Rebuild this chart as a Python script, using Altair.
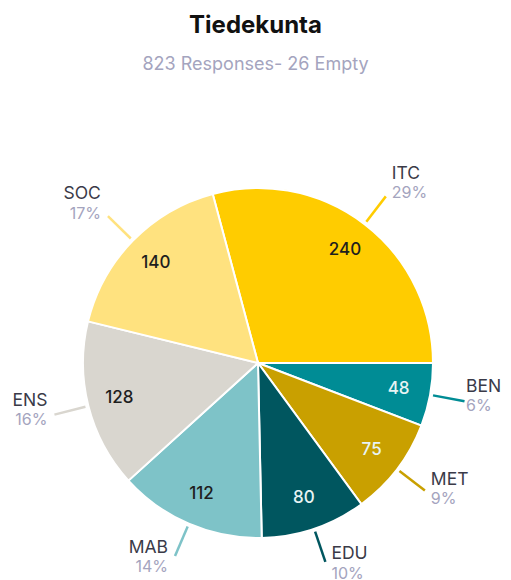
import altair as alt
import pandas as pd

# ---- data ----
categories = ["ITC", "BEN", "MET", "EDU", "MAB", "ENS", "SOC"]
counts = [240, 48, 75, 80, 112, 128, 140]
percent_labels = ["29%", "6%", "9%", "10%", "14%", "16%", "17%"]
title_text = "Tiedekunta"
subtitle_text = "823 Responses- 26 Empty"

# ---- styling ----
palette = ["#FFCC00", "#008C95", "#C9A000", "#00565F", "#7EC3C8", "#D9D6CF", "#FFE27F"]
light_text_cats = ["BEN", "MET", "EDU"]
FONT = "Inter"
START_DEG = -15
R = 175          # pie radius (px)
R_IN = 143       # radius of the count labels
R_L0 = 178       # leader line start
R_L1 = 210       # leader line end
X_MAX_LABEL = 208  # keep right-hand labels inside the canvas

df = pd.DataFrame({
    "cat": categories,
    "count": counts,
    "pct": percent_labels,
    "order": list(range(len(categories))),
})

W, H, TOP = 495, 477, 95
CY = 260  # pie centre distance below plot top
xscale = alt.Scale(domain=[-250, W - 250], nice=False, zero=False)
yscale = alt.Scale(domain=[CY - H, CY], nice=False, zero=False)

base = (
    alt.Chart(df)
    .transform_window(cum="sum(count)", sort=[alt.SortField("order")], frame=[None, 0])
    .transform_joinaggregate(total="sum(count)")
    .transform_calculate(
        a0=f"(datum.cum - datum.count) / datum.total * 2 * PI + {START_DEG} * PI / 180",
        a1=f"datum.cum / datum.total * 2 * PI + {START_DEG} * PI / 180",
    )
    .transform_calculate(mid="(datum.a0 + datum.a1) / 2")
    .transform_calculate(
        ix=f"{R_IN} * sin(datum.mid)",
        iy=f"{R_IN} * cos(datum.mid)",
        lx0=f"{R_L0} * sin(datum.mid)",
        ly0=f"{R_L0} * cos(datum.mid)",
        lx1=f"{R_L1} * sin(datum.mid)",
        ly1=f"{R_L1} * cos(datum.mid)",
        right="sin(datum.mid) >= 0",
    )
    .transform_calculate(
        tx=f"datum.right ? min(datum.lx1 + 6, {X_MAX_LABEL}) : datum.lx1 - 7",
        ny="datum.ly1 + 6 + 8.6 * cos(datum.mid) + 10",
        py="datum.ly1 + 6 + 8.6 * cos(datum.mid) - 9.5",
    )
)

color = alt.Color("cat:N", scale=alt.Scale(domain=categories, range=palette), legend=None)
X0 = alt.X(datum=0, scale=xscale, axis=None)
Y0 = alt.Y(datum=0, scale=yscale, axis=None)

arcs = base.mark_arc(radius=R, stroke="white", strokeWidth=2).encode(
    theta=alt.Theta("a0:Q", scale=None),
    theta2="a1:Q",
    color=color,
    x=X0,
    y=Y0,
)

lines = base.mark_rule(strokeWidth=2.5).encode(
    x=alt.X("lx0:Q", scale=xscale, axis=None),
    y=alt.Y("ly0:Q", scale=yscale, axis=None),
    x2="lx1:Q",
    y2="ly1:Q",
    color=color,
)

inner = base.mark_text(font=FONT, fontSize=17, fontWeight=500, baseline="middle").encode(
    x=alt.X("ix:Q", scale=xscale, axis=None),
    y=alt.Y("iy:Q", scale=yscale, axis=None),
    text="count:Q",
    fill=alt.condition(
        alt.FieldOneOfPredicate(field="cat", oneOf=light_text_cats),
        alt.value("#E8F4F4"),
        alt.value("#1E1E1E"),
    ),
)

def side_labels(is_right):
    flt = "datum.right" if is_right else "!datum.right"
    align = "left" if is_right else "right"
    names = base.transform_filter(flt).mark_text(
        font=FONT, fontSize=17.5, align=align, baseline="middle", color="#3A3A48"
    ).encode(
        x=alt.X("tx:Q", scale=xscale, axis=None),
        y=alt.Y("ny:Q", scale=yscale, axis=None),
        text="cat:N",
    )
    pcts = base.transform_filter(flt).mark_text(
        font=FONT, fontSize=16, align=align, baseline="middle", color="#A4A4BE"
    ).encode(
        x=alt.X("tx:Q", scale=xscale, axis=None),
        y=alt.Y("py:Q", scale=yscale, axis=None),
        text="pct:N",
    )
    return names + pcts

chart = (
    alt.layer(arcs, lines, inner, side_labels(True), side_labels(False))
    .properties(
        width=W,
        height=H,
        autosize=alt.AutoSizeParams(type="none"),
        padding={"top": TOP, "left": 0, "right": 0, "bottom": 0},
        title=alt.TitleParams(
            title_text,
            subtitle=subtitle_text,
            font=FONT,
            fontSize=24,
            fontWeight="bold",
            color="#111111",
            subtitleFont=FONT,
            subtitleFontSize=18,
            subtitleColor="#A4A4BE",
            subtitlePadding=18.5,
            anchor="middle",
            offset=29,
        ),
    )
    .configure_view(stroke=None)
)

chart.save("out.html", embed_options={"renderer": "svg", "actions": False})
